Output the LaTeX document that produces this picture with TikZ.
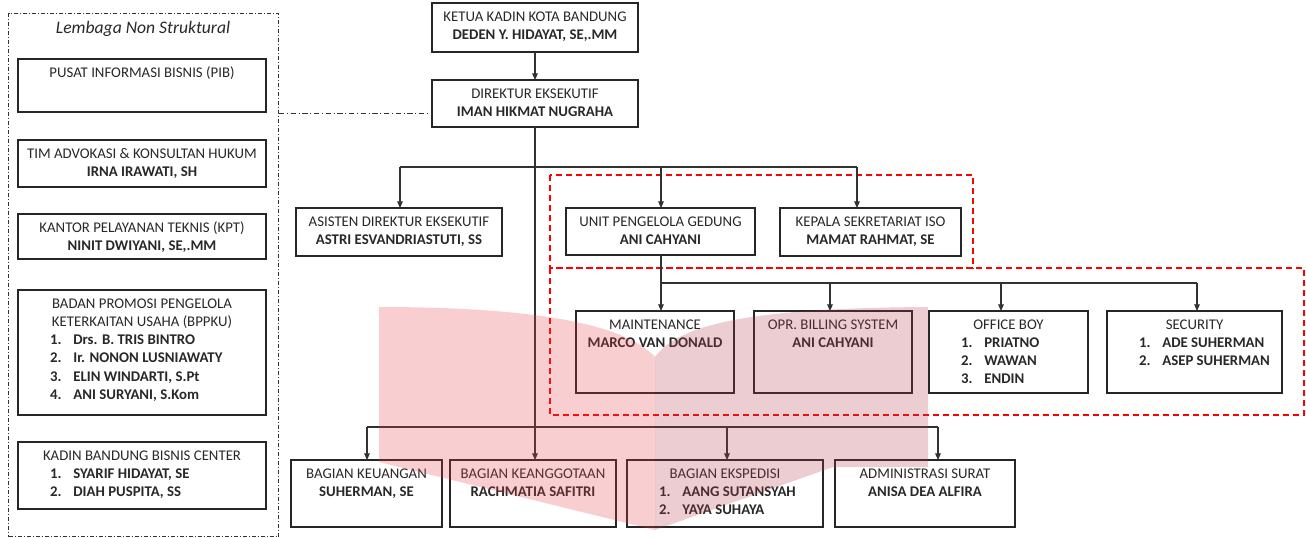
\documentclass[tikz,border=0pt]{standalone}
\usepackage{fontspec}
\setmainfont{Carlito}
\usetikzlibrary{arrows.meta}
\definecolor{wmA}{RGB}{230,60,70}
\definecolor{wmB}{RGB}{180,60,75}
\definecolor{lnc}{RGB}{50,50,50}
\definecolor{txt}{RGB}{40,40,40}
\newcommand\bx[3]{\parbox[c][\dimexpr0.75pt*#2\relax][t]{\dimexpr0.75pt*#1\relax}{\centering\color{txt}\fontsize{11.1}{13.7}\selectfont\rule{0pt}{13.5pt}#3\par}}
\newcommand\itm[2]{\par\makebox[\linewidth][l]{\hspace*{24pt}\makebox[17.5pt][l]{\bfseries #1}\textbf{#2}}}
\tikzset{
  box/.style={draw=black!85, line width=0.8pt, inner sep=0pt, outer sep=0pt, anchor=north west},
  conn/.style={draw=lnc, line width=0.8pt},
  arr/.style={conn, -{Triangle[length=5pt,width=4.2pt]}},
  dashdot/.style={draw=black!80, line width=0.75pt, dash pattern=on 3pt off 1.5pt on 0.75pt off 1.5pt},
  reddash/.style={draw=red, line width=1.4pt, dash pattern=on 4.5pt off 3pt},
}
\begin{document}
\begin{tikzpicture}[x=0.75pt,y=-0.75pt]
\useasboundingbox (0,0) rectangle (1306,537);
% left panel
\node[dashdot, inner sep=0pt, anchor=north west, minimum width=202.5pt, minimum height=392.25pt] (lns) at (8,13) {};
\node[font=\itshape\fontsize{13.2}{15}\selectfont, text=txt] (lnst) at (143,29) {Lembaga Non Struktural};
\node[box] (pib) at (18,59) {\bx{248}{53}{PUSAT INFORMASI BISNIS (PIB)}};
\node[box] (tim) at (18,140) {\bx{248}{47}{TIM ADVOKASI \& KONSULTAN HUKUM\\\textbf{IRNA IRAWATI, SH}}};
\node[box] (kpt) at (18,214) {\bx{248}{45}{KANTOR PELAYANAN TEKNIS (KPT)\\\textbf{NINIT DWIYANI, SE,.MM}}};
\node[box] (bppku) at (18,290) {\bx{248}{125}{BADAN PROMOSI PENGELOLA\\KETERKAITAN USAHA (BPPKU)\itm{1.}{Drs. B. TRIS BINTRO}\itm{2.}{Ir. NONON LUSNIAWATY}\itm{3.}{ELIN WINDARTI, S.Pt}\itm{4.}{ANI SURYANI, S.Kom}}};
\node[box] (kbbc) at (18,442) {\bx{248}{67}{KADIN BANDUNG BISNIS CENTER\itm{1.}{SYARIF HIDAYAT, SE}\itm{2.}{DIAH PUSPITA, SS}}};
% top
\node[box] (ketua) at (432,3) {\bx{206}{49}{KETUA KADIN KOTA BANDUNG\\\textbf{DEDEN Y. HIDAYAT, SE,.MM}}};
\node[box] (dir) at (432,80) {\bx{206}{47}{DIREKTUR EKSEKUTIF\\\textbf{IMAN HIKMAT NUGRAHA}}};
% second row
\node[box] (asis) at (296,208) {\bx{206}{48}{ASISTEN DIREKTUR EKSEKUTIF\\\textbf{ASTRI ESVANDRIASTUTI, SS}}};
\node[box] (upg) at (566,208) {\bx{189}{47}{UNIT PENGELOLA GEDUNG\\\textbf{ANI CAHYANI}}};
\node[box] (kso) at (780,208) {\bx{181}{48}{KEPALA SEKRETARIAT ISO\\\textbf{MAMAT RAHMAT, SE}}};
% third row
\node[box] (mnt) at (576,311) {\bx{158}{82}{MAINTENANCE\\\textbf{MARCO VAN DONALD}}};
\node[box] (opr) at (754,311) {\bx{158}{82}{OPR. BILLING SYSTEM\\\textbf{ANI CAHYANI}}};
\node[box] (ob) at (929,311) {\bx{159}{82}{OFFICE BOY\itm{1.}{PRIATNO}\itm{2.}{WAWAN}\itm{3.}{ENDIN}}};
\node[box] (sec) at (1107,311) {\bx{175}{82}{SECURITY\itm{1.}{ADE SUHERMAN}\itm{2.}{ASEP SUHERMAN}}};
% bottom row
\node[box] (keu) at (291,460) {\bx{151}{67}{BAGIAN KEUANGAN\\\textbf{SUHERMAN, SE}}};
\node[box] (kea) at (450,460) {\bx{166}{67}{BAGIAN KEANGGOTAAN\\\textbf{RACHMATIA SAFITRI}}};
\node[box] (eks) at (627,460) {\bx{196}{67}{BAGIAN EKSPEDISI\itm{1.}{AANG SUTANSYAH}\itm{2.}{YAYA SUHAYA}}};
\node[box] (adm) at (835,460) {\bx{180}{67}{ADMINISTRASI SURAT\\\textbf{ANISA DEA ALFIRA}}};
% red dashed groups
\draw[reddash] (550,175) rectangle (973,268);
\draw[reddash] (550,268) rectangle (1304,415);
% connectors
\coordinate (ddy) at (0,113);
\draw[dashdot, dash pattern=on 4pt off 2pt on 0.75pt off 2pt] (lns.east |- ddy) -- (dir.west |- ddy);
\draw[arr] (ketua) -- (dir);
\draw[arr] (dir.south) -- (dir.south |- kea.north);
\coordinate (t1) at (400,167);
\coordinate (t2) at (857,167);
\coordinate (tu) at (661,167);
\draw[conn] (t1) -- (t2);
\draw[arr] (t1) -- (t1 |- asis.north);
\draw[arr] (tu) -- (tu |- upg.north);
\draw[arr] (t2) -- (t2 |- kso.north);
\coordinate (m1) at (661,283);
\coordinate (m2) at (830,283);
\coordinate (m3) at (1001,283);
\coordinate (m4) at (1197,283);
\draw[conn] (m1 |- upg.south) -- (m1) -- (m4);
\draw[arr] (m1) -- (m1 |- mnt.north);
\draw[arr] (m2) -- (m2 |- opr.north);
\draw[arr] (m3) -- (m3 |- ob.north);
\draw[arr] (m4) -- (m4 |- sec.north);
\coordinate (b1) at (367,427);
\coordinate (b3) at (727,427);
\coordinate (b4) at (938,427);
\draw[conn] (b1) -- (b4);
\draw[arr] (b1) -- (b1 |- keu.north);
\draw[arr] (b3) -- (b3 |- eks.north);
\draw[arr] (b4) -- (b4 |- adm.north);
% watermark
\fill[wmA, fill opacity=0.25] (379,307) .. controls (560,307) and (630,330) .. (655,357) -- (655,530) -- (379,462) -- cycle;
\fill[wmB, fill opacity=0.25] (655,357) .. controls (680,322) and (760,308) .. (928,307) -- (928,467) -- (833,467) -- (655,530) -- cycle;
\end{tikzpicture}
\end{document}
